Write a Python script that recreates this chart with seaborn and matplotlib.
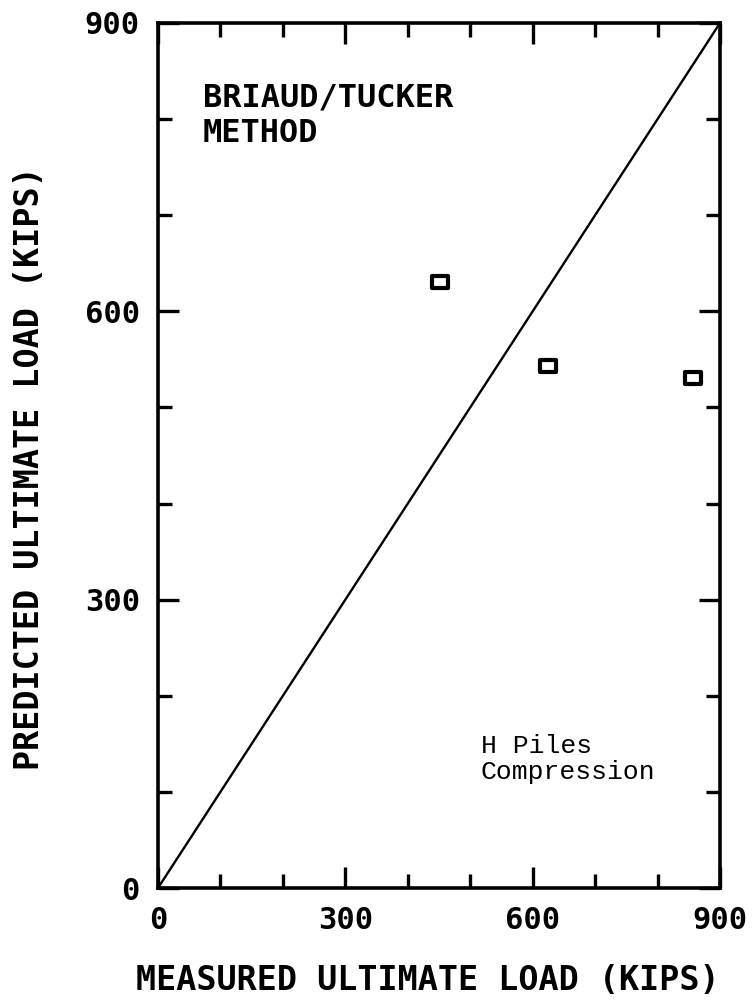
import numpy as np
import pandas as pd
import matplotlib
matplotlib.use("Agg")
import matplotlib.pyplot as plt
from matplotlib.markers import MarkerStyle
from matplotlib.transforms import Affine2D
import seaborn as sns

# data
measured = [452, 625, 857]
predicted = [630, 543, 531]
line_x = [0, 900]
line_y = [0, 900]
major_ticks = [0, 300, 600, 900]
minor_ticks = [100, 200, 400, 500, 700, 800]
method_label = "BRIAUD/TUCKER\nMETHOD"
note_label = "H Piles\nCompression"
x_title = "MEASURED ULTIMATE LOAD (KIPS)"
y_title = "PREDICTED ULTIMATE LOAD (KIPS)"

sns.set_theme(style="ticks")
plt.rcParams['font.family'] = ['DejaVu Sans Mono', 'DejaVu Sans']
plt.rcParams['text.color'] = 'black'
plt.rcParams['xtick.color'] = 'black'
plt.rcParams['ytick.color'] = 'black'
plt.rcParams['axes.labelcolor'] = 'black'

fig = plt.figure(figsize=(7.53, 10.02), dpi=100)
ax = fig.add_axes([158/753, 1-888/1002, 562/753, 865/1002])

df = pd.DataFrame({"measured": measured, "predicted": predicted})
sns.lineplot(x=line_x, y=line_y, ax=ax, color="black", linewidth=1.7)
mk = MarkerStyle("s", joinstyle="round", transform=Affine2D().scale(1.35, 1.0))
sns.scatterplot(data=df, x="measured", y="predicted", ax=ax, marker=mk,
                s=70, facecolor="white", edgecolor="black", linewidth=3.0, zorder=5)

ax.set_xlim(0, 900)
ax.set_ylim(0, 900)
ax.set_xticks(major_ticks)
ax.set_yticks(major_ticks)
ax.set_xticks(minor_ticks, minor=True)
ax.set_yticks(minor_ticks, minor=True)
ax.tick_params(which="both", direction="in", top=True, right=True, width=2.4, color="black")
ax.tick_params(which="major", length=15, pad=13)
ax.tick_params(which="minor", length=10)
for lab in ax.get_xticklabels() + ax.get_yticklabels():
    lab.set_fontsize(22)
    lab.set_fontweight("bold")
for sp in ax.spines.values():
    sp.set_linewidth(2.6)
    sp.set_color("black")

ax.set_xlabel(x_title, fontsize=24, fontweight="bold")
ax.set_ylabel(y_title, fontsize=24, fontweight="bold")
ax.xaxis.set_label_coords(0.48, -0.088)
ax.yaxis.set_label_coords(-0.20, 0.485)

ax.text(72, 838, method_label, fontsize=23, fontweight="bold", va="top", ha="left",
        linespacing=1.2)
ax.text(517, 160, note_label, fontsize=19, va="top", ha="left",
        family=["Liberation Mono", "DejaVu Sans Mono"], linespacing=1.1)

fig.savefig("out.png", dpi=100)
